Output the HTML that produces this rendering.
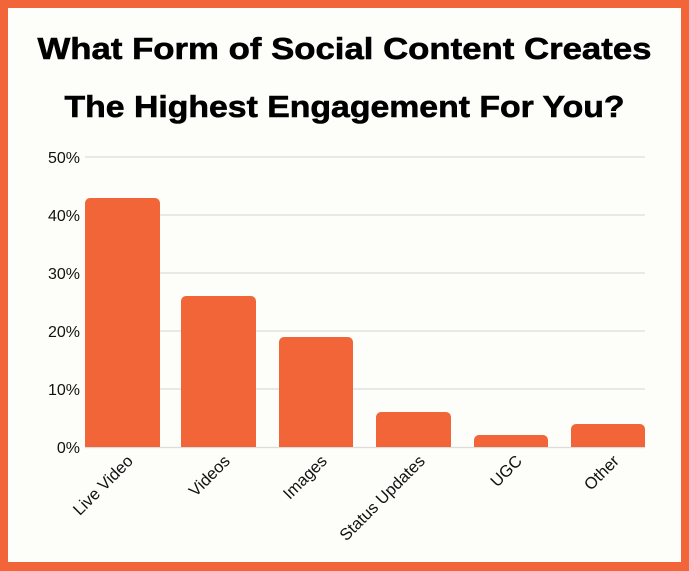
<!DOCTYPE html>
<html><head><meta charset="utf-8"><style>
html,body{margin:0;padding:0;background:#fff;}
svg{display:block;}
</style></head><body>
<svg width="689" height="571" viewBox="0 0 689 571" xmlns="http://www.w3.org/2000/svg" font-family="Liberation Sans, sans-serif">
<rect x="0" y="0" width="689" height="571" fill="#f26539"/>
<rect x="8" y="8" width="673" height="554" fill="#fdfdf9"/>
<text x="344.5" y="59" text-anchor="middle" font-size="31" font-weight="bold" fill="#000" stroke="#000" stroke-width="0.6" textLength="614" lengthAdjust="spacingAndGlyphs">What Form of Social Content Creates</text>
<text x="344.5" y="117" text-anchor="middle" font-size="31" font-weight="bold" fill="#000" stroke="#000" stroke-width="0.6" textLength="560" lengthAdjust="spacingAndGlyphs">The Highest Engagement For You?</text>
<g stroke="#dcdcdc" stroke-width="1.2">
<line x1="85" y1="157" x2="645" y2="157"/>
<line x1="85" y1="215" x2="645" y2="215"/>
<line x1="85" y1="273" x2="645" y2="273"/>
<line x1="85" y1="331" x2="645" y2="331"/>
<line x1="85" y1="389" x2="645" y2="389"/>
<line x1="85" y1="447.5" x2="645" y2="447.5"/>
</g>
<g font-size="16" fill="#111" text-anchor="end">
<text x="80" y="163">50%</text>
<text x="80" y="221">40%</text>
<text x="80" y="279">30%</text>
<text x="80" y="337">20%</text>
<text x="80" y="395">10%</text>
<text x="80" y="453">0%</text>
</g>
<g fill="#f26539">
<path d="M85 447V203a5 5 0 0 1 5-5h65a5 5 0 0 1 5 5V447Z"/>
<path d="M181 447V301a5 5 0 0 1 5-5h65a5 5 0 0 1 5 5V447Z"/>
<path d="M279 447V342a5 5 0 0 1 5-5h64a5 5 0 0 1 5 5V447Z"/>
<path d="M376 447V417a5 5 0 0 1 5-5h65a5 5 0 0 1 5 5V447Z"/>
<path d="M474 447V440a5 5 0 0 1 5-5h64a5 5 0 0 1 5 5V447Z"/>
<path d="M571 447V429a5 5 0 0 1 5-5h64a5 5 0 0 1 5 5V447Z"/>
</g>
<g font-size="16.5" fill="#111" text-anchor="end">
<text transform="translate(134,462) rotate(-45)">Live Video</text>
<text transform="translate(231,462) rotate(-45)">Videos</text>
<text transform="translate(328,462) rotate(-45)">Images</text>
<text transform="translate(426,462) rotate(-45)">Status Updates</text>
<text transform="translate(523,462) rotate(-45)">UGC</text>
<text transform="translate(620,462) rotate(-45)">Other</text>
</g>
</svg>
</body></html>
